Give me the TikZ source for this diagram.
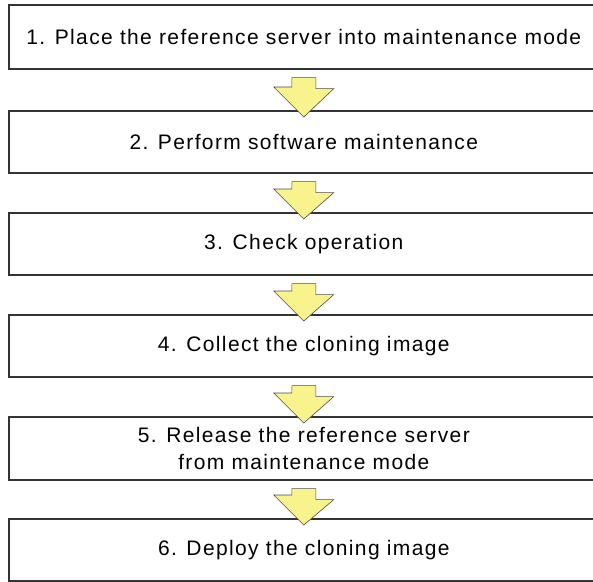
\documentclass[tikz,border=0pt]{standalone}
\usepackage{fontspec}
\setmainfont{Liberation Sans}[LetterSpace=6.5]
\definecolor{arrowfill}{RGB}{248,243,140}
\begin{document}
\begin{tikzpicture}[x=1pt,y=-1pt,
  stepbox/.style={draw=black!80,line width=1.6pt,minimum width=590pt,minimum height=62pt,inner sep=0pt,anchor=north west,align=center,font=\fontsize{21}{27}\selectfont},
  flowarrow/.style={fill=arrowfill,draw=black!70,line width=0.6pt,line join=miter}]
\useasboundingbox (0,0) rectangle (593,581);
\begin{scope}
\clip (0,0) rectangle (593,581);
\node[stepbox,minimum height=64pt] (b1) at (8,4) {1. Place the reference server into maintenance mode};
\node[stepbox] (b2) at (8,110) {2. Perform software maintenance};
\node[stepbox] (b3) at (8,212) {3. Check operation};
\node[stepbox] (b4) at (8,314) {4. Collect the cloning image};
\node[stepbox,minimum height=63pt] (b5) at (8,416) {5. Release the reference server\\from maintenance mode};
\node[stepbox] (b6) at (8,518) {6. Deploy the cloning image};
\foreach \a/\b in {b1/b2,b2/b3,b3/b4,b4/b5,b5/b6}{
  \draw[flowarrow] ([xshift=-12pt,yshift=-8pt]\a.south) coordinate (s\a)
    -- ++(24,0) -- ++(0,11) -- ++(18,0) -- ([yshift=-7pt]\b.north) -- ++(-30,-30) -- ++(18,0) -- cycle;
}
\end{scope}
\end{tikzpicture}
\end{document}
